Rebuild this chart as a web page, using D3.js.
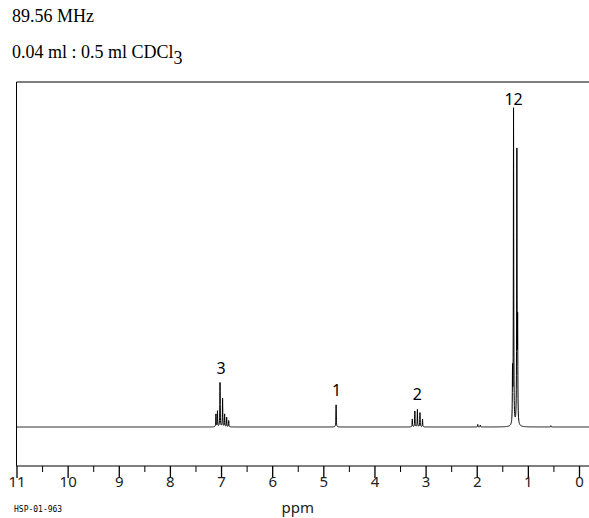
<!DOCTYPE html>
<html><head><meta charset="utf-8">
<script src="https://cdn.jsdelivr.net/npm/d3@7"></script>
<style>body{margin:0;background:#fff}</style>
</head><body>
<script>
// peak positions (ppm) and heights (fraction of tallest)
const peakPpm    = [7.10, 7.07, 7.02, 6.97, 6.93, 6.89, 6.85, 4.75, 3.26, 3.21, 3.16, 3.11, 3.06, 1.30, 1.28, 1.215, 1.20, 1.98, 1.93, 0.55];
const peakHeight = [0.04, 0.05, 0.14, 0.09, 0.04, 0.03, 0.02, 0.07, 0.025, 0.05, 0.055, 0.045, 0.025, 0.16, 1.0, 0.91, 0.30, 0.008, 0.006, 0.004];
const peakLabels = [{ppm: 7.0, text: "3", h: 0.15}, {ppm: 4.74, text: "1", h: 0.08}, {ppm: 3.16, text: "2", h: 0.065}, {ppm: 1.28, text: "12", h: 1.0}];
const tickPpm = [11, 10, 9, 8, 7, 6, 5, 4, 3, 2, 1, 0];

const w = 589, h = 518;
const svg = d3.select("body").append("svg").attr("width", w).attr("height", h);

const x = d3.scaleLinear().domain([11, 0]).range([16.5, 579]);
const y = d3.scaleLinear().domain([0, 1]).range([427, 111]);

svg.append("text").attr("x", 12).attr("y", 22).text("89.56 MHz")
  .style("font-family", "Liberation Serif").style("font-size", "18px");
const t2 = svg.append("text").attr("x", 12).attr("y", 58)
  .style("font-family", "Liberation Serif").style("font-size", "18px");
t2.append("tspan").text("0.04 ml : 0.5 ml CDCl");
t2.append("tspan").attr("dy", 6).text("3");

// frame
svg.append("path").attr("d", `M${w},82H16.5V466H${w}`).attr("fill", "none").attr("stroke", "#000");

// spectrum built from lorentzian lines
const gam = 0.004;
const pts = d3.range(11, -0.2, -0.002).map(p => {
  let v = 0;
  peakPpm.forEach((c, i) => { v += peakHeight[i] / (1 + ((p - c) / gam) ** 2); });
  return [p, v];
});
svg.append("path").datum(pts)
  .attr("d", d3.line().x(d => x(d[0])).y(d => y(d[1])))
  .attr("fill", "none").attr("stroke", "#000").attr("stroke-width", 1);

// axis
const ax = svg.append("g").attr("transform", "translate(0,466)")
  .call(d3.axisBottom(x).tickValues(tickPpm).tickSize(12).tickFormat(d3.format("d")));
ax.select(".domain").remove();
ax.selectAll("text").attr("dy", 6).style("font-family", "Noto Sans").style("font-size", "15px").attr("fill", "#222");
ax.selectAll("line").attr("stroke-width", 1.3);
svg.append("g").attr("transform", "translate(0,466)")
  .call(d3.axisBottom(x).tickValues(d3.range(10.5, 0, -1)).tickSize(6).tickFormat(""))
  .select(".domain").remove();

svg.append("text").attr("x", x(5.5)).attr("y", 513).attr("text-anchor", "middle").text("ppm")
  .style("font-family", "Noto Sans").style("font-size", "15px").attr("fill", "#222");
svg.append("text").attr("x", 14).attr("y", 512).text("HSP-01-963")
  .style("font-family", "DejaVu Sans Mono").style("font-size", "8px");

svg.selectAll(".plab").data(peakLabels).join("text")
  .attr("x", d => x(d.ppm)).attr("y", d => y(d.h) - 6).attr("text-anchor", "middle")
  .text(d => d.text).style("font-family", "Noto Sans").style("font-size", "16px");
</script>
</body></html>
